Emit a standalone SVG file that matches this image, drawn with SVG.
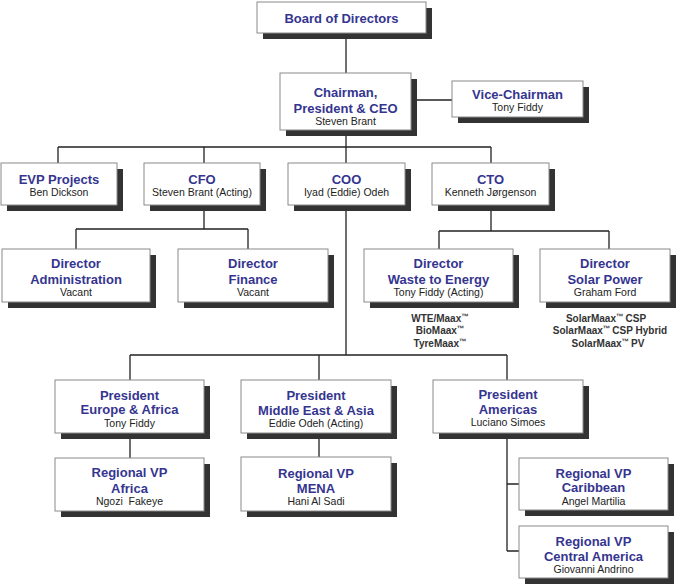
<svg xmlns="http://www.w3.org/2000/svg" width="684" height="585" viewBox="0 0 684 585">
<style>
.sh{fill:#333333}
.bx{fill:#ffffff;stroke:#8a8a8a;stroke-width:1}
.t{font-family:"Liberation Sans",Arial,sans-serif;font-weight:bold;font-size:13px;fill:#35358f;text-anchor:middle}
.n{font-family:"Liberation Sans",Arial,sans-serif;font-size:10.5px;fill:#222222;text-anchor:middle}
.p{font-family:"Liberation Sans",Arial,sans-serif;font-weight:bold;font-size:10px;fill:#333333;text-anchor:middle}
.tm{font-size:7.5px}
#connectors path{fill:none;stroke:#222222;stroke-width:1.3}
</style>
<rect width="684" height="585" fill="#ffffff"/>
<g id="connectors">
<path d="M346,33V73"/>
<path d="M411,100H452"/>
<path d="M346,130V163"/>
<path d="M58,147H491M58,147V163M204,147V163M491,147V163"/>
<path d="M204,205V229M76,229H248M76,229V249M248,229V249"/>
<path d="M491,205V231M439,231H609M439,231V249M609,231V249"/>
<path d="M346,205V355M130,355H507M130,355V380M319,355V380M507,355V380"/>
<path d="M130,433V458M319,433V457"/>
<path d="M507,433V551M507,484H519M507,551H519"/>
</g>
<g id="board">
<rect class="sh" x="263" y="8" width="169" height="31"/>
<rect class="bx" x="257" y="2" width="169" height="31"/>
<text class="t" x="341.5" y="23">Board of Directors</text>
</g>
<g id="chairman">
<rect class="sh" x="286" y="79" width="131" height="57"/>
<rect class="bx" x="280" y="73" width="131" height="57"/>
<text class="t" x="345.5" y="97">Chairman,</text>
<text class="t" x="345.5" y="113">President &amp; CEO</text>
<text class="n" x="345.5" y="125">Steven Brant</text>
</g>
<g id="vice-chairman">
<rect class="sh" x="458" y="87" width="131" height="36"/>
<rect class="bx" x="452" y="81" width="131" height="36"/>
<text class="t" x="517.5" y="99">Vice-Chairman</text>
<text class="n" x="517.5" y="111">Tony Fiddy</text>
</g>
<g id="evp">
<rect class="sh" x="7" y="169" width="116" height="42"/>
<rect class="bx" x="1" y="163" width="116" height="42"/>
<text class="t" x="59" y="184">EVP Projects</text>
<text class="n" x="59" y="196">Ben Dickson</text>
</g>
<g id="cfo">
<rect class="sh" x="150" y="169" width="116" height="42"/>
<rect class="bx" x="144" y="163" width="116" height="42"/>
<text class="t" x="202" y="184">CFO</text>
<text class="n" x="202" y="196">Steven Brant (Acting)</text>
</g>
<g id="coo">
<rect class="sh" x="294" y="169" width="117" height="42"/>
<rect class="bx" x="288" y="163" width="117" height="42"/>
<text class="t" x="346.5" y="184">COO</text>
<text class="n" x="346.5" y="196">Iyad (Eddie) Odeh</text>
</g>
<g id="cto">
<rect class="sh" x="438" y="169" width="117" height="42"/>
<rect class="bx" x="432" y="163" width="117" height="42"/>
<text class="t" x="490.5" y="184">CTO</text>
<text class="n" x="490.5" y="196">Kenneth Jørgenson</text>
</g>
<g id="dir-admin">
<rect class="sh" x="8" y="255" width="148" height="53"/>
<rect class="bx" x="2" y="249" width="148" height="53"/>
<text class="t" x="76" y="268">Director</text>
<text class="t" x="76" y="284">Administration</text>
<text class="n" x="76" y="296">Vacant</text>
</g>
<g id="dir-finance">
<rect class="sh" x="184" y="255" width="150" height="53"/>
<rect class="bx" x="178" y="249" width="150" height="53"/>
<text class="t" x="253" y="268">Director</text>
<text class="t" x="253" y="284">Finance</text>
<text class="n" x="253" y="296">Vacant</text>
</g>
<g id="dir-wte">
<rect class="sh" x="370" y="255" width="149" height="53"/>
<rect class="bx" x="364" y="249" width="149" height="53"/>
<text class="t" x="438.5" y="268">Director</text>
<text class="t" x="438.5" y="284">Waste to Energy</text>
<text class="n" x="438.5" y="296">Tony Fiddy (Acting)</text>
<text class="p" x="440" y="322">WTE/Maax<tspan class="tm" dy="-3">™</tspan></text>
<text class="p" x="440" y="334">BioMaax<tspan class="tm" dy="-3">™</tspan></text>
<text class="p" x="440" y="347">TyreMaax<tspan class="tm" dy="-3">™</tspan></text>
</g>
<g id="dir-solar">
<rect class="sh" x="546" y="255" width="130" height="53"/>
<rect class="bx" x="540" y="249" width="130" height="53"/>
<text class="t" x="605" y="268">Director</text>
<text class="t" x="605" y="284">Solar Power</text>
<text class="n" x="605" y="296">Graham Ford</text>
<text class="p" x="606" y="322">SolarMaax<tspan class="tm" dy="-3">™</tspan><tspan dx="2" dy="3">CSP</tspan></text>
<text class="p" x="610" y="334">SolarMaax<tspan class="tm" dy="-3">™</tspan><tspan dx="2" dy="3">CSP Hybrid</tspan></text>
<text class="p" x="608" y="347">SolarMaax<tspan class="tm" dy="-3">™</tspan><tspan dx="2" dy="3">PV</tspan></text>
</g>
<g id="pres-europe-africa">
<rect class="sh" x="61" y="386" width="149" height="53"/>
<rect class="bx" x="55" y="380" width="149" height="53"/>
<text class="t" x="129.5" y="400">President</text>
<text class="t" x="129.5" y="414">Europe &amp; Africa</text>
<text class="n" x="129.5" y="427">Tony Fiddy</text>
</g>
<g id="pres-me-asia">
<rect class="sh" x="247" y="386" width="150" height="53"/>
<rect class="bx" x="241" y="380" width="150" height="53"/>
<text class="t" x="316" y="400">President</text>
<text class="t" x="316" y="415">Middle East &amp; Asia</text>
<text class="n" x="316" y="427">Eddie Odeh (Acting)</text>
</g>
<g id="pres-americas">
<rect class="sh" x="439" y="386" width="150" height="53"/>
<rect class="bx" x="433" y="380" width="150" height="53"/>
<text class="t" x="508" y="399">President</text>
<text class="t" x="508" y="414">Americas</text>
<text class="n" x="508" y="426">Luciano Simoes</text>
</g>
<g id="rvp-africa">
<rect class="sh" x="61" y="464" width="149" height="53"/>
<rect class="bx" x="55" y="458" width="149" height="53"/>
<text class="t" x="129.5" y="477">Regional VP</text>
<text class="t" x="129.5" y="493">Africa</text>
<text class="n" x="129.5" y="505">Ngozi&#160; Fakeye</text>
</g>
<g id="rvp-mena">
<rect class="sh" x="247" y="463" width="150" height="54"/>
<rect class="bx" x="241" y="457" width="150" height="54"/>
<text class="t" x="316" y="478">Regional VP</text>
<text class="t" x="316" y="493">MENA</text>
<text class="n" x="316" y="505">Hani Al Sadi</text>
</g>
<g id="rvp-caribbean">
<rect class="sh" x="525" y="464" width="149" height="52"/>
<rect class="bx" x="519" y="458" width="149" height="52"/>
<text class="t" x="593.5" y="478">Regional VP</text>
<text class="t" x="593.5" y="492">Caribbean</text>
<text class="n" x="593.5" y="505">Angel Martilia</text>
</g>
<g id="rvp-central-america">
<rect class="sh" x="525" y="532" width="149" height="52"/>
<rect class="bx" x="519" y="526" width="149" height="52"/>
<text class="t" x="593.5" y="546">Regional VP</text>
<text class="t" x="593.5" y="561">Central America</text>
<text class="n" x="593.5" y="573">Giovanni Andrino</text>
</g>
</svg>
